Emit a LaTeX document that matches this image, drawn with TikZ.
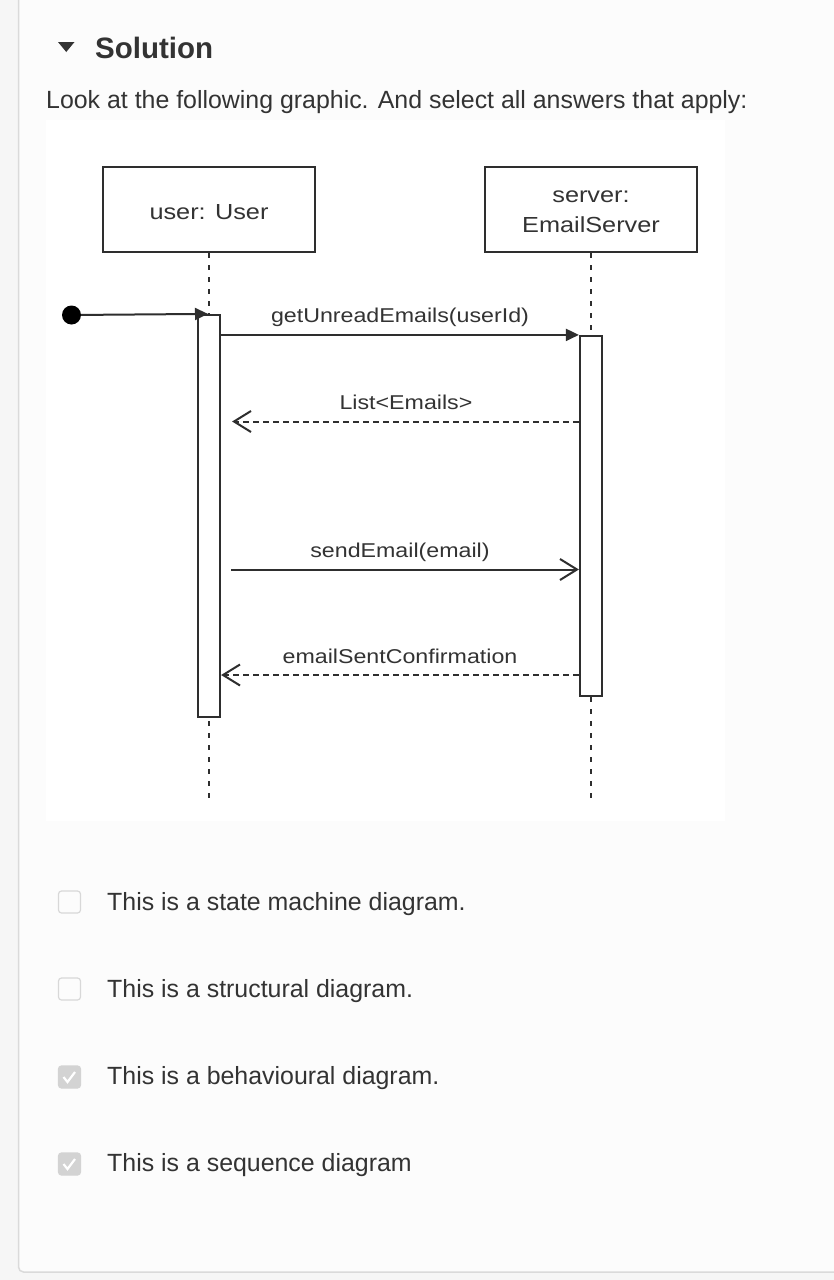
\documentclass[tikz,border=0pt]{standalone}
\usepackage{fontspec}
\setmainfont{Liberation Sans}
\newfontfamily\umlfont[FakeStretch=1.16]{Liberation Sans}
\usetikzlibrary{arrows.meta}
\definecolor{pagebg}{HTML}{F6F6F6}
\definecolor{cardbg}{HTML}{FCFCFC}
\definecolor{cardline}{HTML}{DADADA}
\definecolor{ink}{HTML}{333333}
\definecolor{umlink}{HTML}{2E2E2E}
\definecolor{tickgrey}{HTML}{D3D3D3}
\definecolor{boxline}{HTML}{D8D8D8}
\newcommand{\msgfont}{\umlfont\fontsize{20}{24}\selectfont}
\newcommand{\pagefont}{\fontsize{24.9}{30}\selectfont}

\begin{document}
\begin{tikzpicture}[x=1pt, y=-1pt,
  lifebox/.style={draw=umlink, line width=2.2pt, minimum width=212pt, minimum height=85pt,
    align=center, text=ink, font=\umlfont\fontsize{21.8}{30}\selectfont},
  actbox/.style={draw=umlink, fill=white, line width=2.2pt, minimum width=22pt, inner sep=0pt},
  lifeline/.style={draw=umlink, line width=2.2pt, dash pattern=on 5pt off 7pt},
  startdot/.style={circle, fill=black, minimum size=19pt, inner sep=0pt},
  found/.style={draw=umlink, line width=2pt, -{Triangle[length=13pt,width=12pt]}},
  call/.style={found},
  send/.style={draw=umlink, line width=2pt, -{Straight Barb[length=17pt,width=21pt]}},
  reply/.style={send, dash pattern=on 6pt off 4pt},
  msglabel/.style={midway, yshift=14.5pt, text=ink, font=\msgfont, text height=0.75em, text depth=0.25em},
  chkbox/.style={draw=boxline, fill=cardbg, line width=1.2pt, rounded corners=3pt, minimum size=22pt, inner sep=0pt},
  chkdone/.style={chkbox, draw=tickgrey, fill=tickgrey},
  option/.style={anchor=base west, inner sep=0pt, text=ink, font=\pagefont}]
  \useasboundingbox (0,0) rectangle (834,1280);
  \clip (0,0) rectangle (834,1280);
  \fill[pagebg] (0,0) rectangle (834,1280);
  \filldraw[fill=cardbg, draw=cardline, line width=1.5pt, rounded corners=5pt] (18.5,-20) rectangle (860,1272);

  \fill[ink] (58,42) -- (74.5,42) -- (66.25,52) -- cycle;
  \node[anchor=base west, inner sep=0pt, text=ink, font=\bfseries\fontsize{29.5}{35}\selectfont] (title) at (95,58.5) {Solution};
  \node[option] (intro) at (46,108) {Look at the following graphic. And select all answers that apply:};

  \fill[white] (46,120) rectangle (724.5,821);
  \node[lifebox] (user) at (209,209.5) {\raisebox{-2.5pt}[\height][\depth]{user: User}};
  \node[lifebox] (server) at (591,209.5) {\raisebox{-2.5pt}[\height][\depth]{server:}\\\raisebox{-2.5pt}[\height][\depth]{EmailServer}};
  \coordinate (userend) at (209,802);
  \coordinate (serverend) at (591,802);
  \draw[lifeline] (user) -- (userend);
  \draw[lifeline] (server) -- (serverend);
  \node[actbox, minimum height=402pt] (useract) at (209,516) {};
  \node[actbox, minimum height=360pt] (serveract) at (591,516) {};

  \node[startdot] (start) at (71.5,315) {};
  \draw[found, shorten >=1pt] (start) -- (useract.north);
  \draw[call] (useract.east |- serveract.north) -- (serveract.north west)
    node[msglabel] {getUnreadEmails(userId)};
  \coordinate (listy) at (0,421.5);
  \draw[reply, shorten >=11pt] (serveract.west |- listy) -- (useract.east |- listy)
    node[msglabel, xshift=6pt] {List<Emails>};
  \coordinate (sendy) at (0,569.5);
  \draw[send, shorten <=10pt] (useract.east |- sendy) -- (serveract.west |- sendy)
    node[msglabel] {sendEmail(email)};
  \coordinate (confy) at (0,675);
  \draw[reply] (serveract.west |- confy) -- (useract.east |- confy)
    node[msglabel] {emailSentConfirmation};

  \node[chkbox] (boxA) at (69.5,902) {};
  \node[option] (optA) at (107,910) {This is a state machine diagram.};
  \node[chkbox] (boxB) at (69.5,989) {};
  \node[option] (optB) at (107,997) {This is a structural diagram.};
  \node[chkdone] (boxC) at (69.5,1077) {};
  \draw[white, line width=2.2pt] ([shift={(-6,0)}]boxC.center) -- ([shift={(-2,5)}]boxC.center) -- ([shift={(5.5,-5)}]boxC.center);
  \node[option] (optC) at (107,1084) {This is a behavioural diagram.};
  \node[chkdone] (boxD) at (69.5,1164) {};
  \draw[white, line width=2.2pt] ([shift={(-6,0)}]boxD.center) -- ([shift={(-2,5)}]boxD.center) -- ([shift={(5.5,-5)}]boxD.center);
  \node[option] (optD) at (107,1171) {This is a sequence diagram};
\end{tikzpicture}
\end{document}
